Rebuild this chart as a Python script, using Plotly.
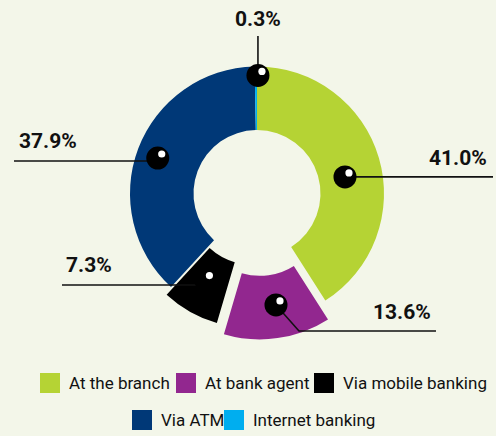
import math
import plotly.graph_objects as go

# ---------------- data ----------------
categories = ["At the branch", "At bank agent", "Via mobile banking", "Via ATM", "Internet banking"]
shares = [41.0, 13.6, 7.3, 37.9, 0.3]
value_labels = ["41.0%", "13.6%", "7.3%", "37.9%", "0.3%"]

# ---------------- style ----------------
colors = ["#b5d334", "#92278f", "#000000", "#003877", "#00aeef"]
pulls = [0, 0.15, 0.07, 0, 0]

W, H = 496, 436
CX, CY, R = 257, 193.5, 127
HOLE = 0.5
BG = "#f3f6e9"
FONT = "Roboto, Liberation Sans, sans-serif"

# dot placement inside each slice (radius fraction, angular nudge in degrees)
dot_rfrac = [0.705, 0.74, 0.72, 0.83, 0.93]
dot_dang = [5.6, -1.9, 1.6, -1.1, 1.0]

# label placement (pixel space): text anchor point and leader end
label_pos = [
    dict(tx=489, ty=158, xa="right", path=[(493, None)]),
    dict(tx=433, ty=312, xa="right", path=[(299, 331), (436, 331)]),
    dict(tx=64, ty=265, xa="left", path=[(62, 285)], horiz=True),
    dict(tx=17, ty=141, xa="left", path=[(14, 161)], horiz=True),
    dict(tx=258, ty=19, xa="center", path=[(None, 36)]),
]

# legend slots (pixel space): swatch left x, row centre y
legend_slots = [(40, 383), (176, 383), (314, 383), (132, 420), (224, 420)]


def px(x):
    return x / W


def py(y):
    return 1 - y / H


max_pull = max(pulls)
box = 2 * R * (1 + max_pull)
dom_x = [(CX - box / 2) / W, (CX + box / 2) / W]
dom_y = [1 - (CY + box / 2) / H, 1 - (CY - box / 2) / H]

fig = go.Figure(
    go.Pie(
        labels=categories,
        values=shares,
        marker=dict(colors=colors, line=dict(width=0)),
        hole=HOLE,
        pull=pulls,
        sort=False,
        direction="clockwise",
        textinfo="none",
        hoverinfo="label+percent",
        showlegend=False,
        domain=dict(x=dom_x, y=dom_y),
    )
)

# dot positions computed from the pie geometry
total = sum(shares)
cum = 0.0
dots = []
for i, v in enumerate(shares):
    mid = (cum + v / 2) / total * 360.0
    cum += v
    a = math.radians(mid + dot_dang[i])
    m = math.radians(mid)
    r = R * dot_rfrac[i]
    pshift = R * pulls[i]
    x = CX + r * math.sin(a) + pshift * math.sin(m)
    y = CY - r * math.cos(a) - pshift * math.cos(m)
    dots.append((x, y))

shapes = []
annotations = []
for i, (dx, dy) in enumerate(dots):
    lp = label_pos[i]
    pts = [(dx, dy)]
    for (x, y) in lp["path"]:
        if lp.get("horiz"):
            pts = [(x, y), (dx, y)]
        else:
            pts.append((x if x is not None else dx, y if y is not None else dy))
    d = "M " + " L ".join(f"{px(x):.5f},{py(y):.5f}" for x, y in pts)
    shapes.append(dict(type="path", xref="paper", yref="paper", path=d,
                       line=dict(color="#111111", width=1.6)))
    annotations.append(dict(
        text=f"<b>{value_labels[i]}</b>", x=px(lp["tx"]), y=py(lp["ty"]),
        xref="paper", yref="paper", xanchor=lp["xa"], yanchor="middle",
        showarrow=False, font=dict(family=FONT, size=21, color="#111111"),
    ))

for (dx, dy) in dots:
    rr = 11.5
    shapes.append(dict(type="circle", xref="paper", yref="paper",
                       x0=px(dx - rr), x1=px(dx + rr), y0=py(dy + rr), y1=py(dy - rr),
                       fillcolor="#000000", line=dict(width=0)))
    hx, hy, hr = dx + 4, dy - 4, 3.6
    shapes.append(dict(type="circle", xref="paper", yref="paper",
                       x0=px(hx - hr), x1=px(hx + hr), y0=py(hy + hr), y1=py(hy - hr),
                       fillcolor="#ffffff", line=dict(width=0)))

# legend
for i, (lx, ly) in enumerate(legend_slots):
    shapes.append(dict(type="rect", xref="paper", yref="paper",
                       x0=px(lx), x1=px(lx + 20), y0=py(ly + 10), y1=py(ly - 10),
                       fillcolor=colors[i], line=dict(width=0)))
    annotations.append(dict(
        text=categories[i], x=px(lx + 27), y=py(ly), xref="paper", yref="paper",
        xanchor="left", yanchor="middle", showarrow=False,
        font=dict(family=FONT, size=17, color="#111111"),
    ))

fig.update_layout(
    width=W, height=H,
    margin=dict(l=0, r=0, t=0, b=0),
    paper_bgcolor=BG, plot_bgcolor=BG,
    shapes=shapes, annotations=annotations,
    showlegend=False,
)

fig.write_html(
    "out.html",
    config={"displayModeBar": False},
    post_script="document.body.style.margin='0';document.body.style.background='" + BG + "';",
)
